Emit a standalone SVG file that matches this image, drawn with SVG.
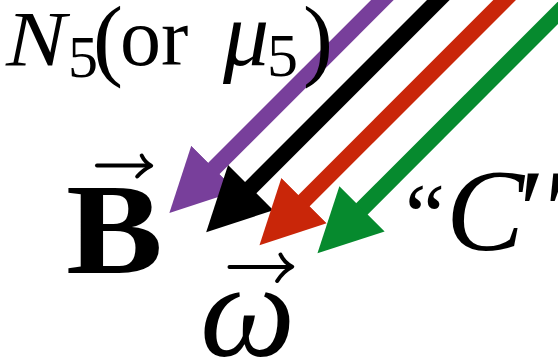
<svg xmlns="http://www.w3.org/2000/svg" width="558" height="361" viewBox="0 0 558 361">
<style>
  .t { font-family: "Liberation Serif", "Times New Roman", serif; fill: #000; }
  .i { font-style: italic; }
  .b { font-weight: bold; }
  .shaft { stroke-width: 16; fill: none; }
  .vec { stroke: #000; fill: none; stroke-width: 4; stroke-linecap: round; stroke-linejoin: round; }
</style>
<defs>
  <marker id="hp" markerUnits="userSpaceOnUse" viewBox="0 -33 64 66" refX="1" refY="0" markerWidth="64" markerHeight="66" orient="auto"><path d="M0,-32 L63,0 L0,32 Z" fill="#783f9b"/></marker>
  <marker id="hk" markerUnits="userSpaceOnUse" viewBox="0 -33 64 66" refX="1" refY="0" markerWidth="64" markerHeight="66" orient="auto"><path d="M0,-32 L63,0 L0,32 Z" fill="#000000"/></marker>
  <marker id="hr" markerUnits="userSpaceOnUse" viewBox="0 -33 64 66" refX="1" refY="0" markerWidth="64" markerHeight="66" orient="auto"><path d="M0,-32 L63,0 L0,32 Z" fill="#c92609"/></marker>
  <marker id="hg" markerUnits="userSpaceOnUse" viewBox="0 -33 64 66" refX="1" refY="0" markerWidth="64" markerHeight="66" orient="auto"><path d="M0,-32 L63,0 L0,32 Z" fill="#068a2e"/></marker>
</defs>
<rect width="558" height="361" fill="#ffffff"/>
<g id="connectors">
  <line class="shaft" x1="403.2" y1="-20.8" x2="213.2" y2="169.2" stroke="#783f9b" marker-end="url(#hp)"/>
  <line class="shaft" x1="460" y1="-21.7" x2="250" y2="188.3" stroke="#000000" marker-end="url(#hk)"/>
  <line class="shaft" x1="525.3" y1="-20.7" x2="303.3" y2="201.3" stroke="#c92609" marker-end="url(#hr)"/>
  <line class="shaft" x1="593.3" y1="-22.5" x2="361.3" y2="209.5" stroke="#068a2e" marker-end="url(#hg)"/>
</g>
<g id="label-n5">
  <text class="t i" x="6" y="65" font-size="78" textLength="60" lengthAdjust="spacingAndGlyphs">N</text>
  <text class="t" y="69"><tspan x="68" y="77" font-size="60">5</tspan><tspan x="93" y="69" font-size="90">(</tspan><tspan x="120" y="65" font-size="82">or</tspan><tspan x="223" y="65" font-size="92" font-style="italic">μ</tspan><tspan x="267" y="76" font-size="62">5</tspan><tspan x="303" y="69" font-size="90">)</tspan></text>
</g>
<g id="label-b">
  <text class="t b" x="66" y="273" font-size="130" textLength="97" lengthAdjust="spacingAndGlyphs">B</text>
  <path class="vec" d="M97,165.5 H149"/>
  <path class="vec" d="M141.7,155.5 Q145,162.5 151.2,165.7 Q143.5,169.5 137.2,176.5" stroke-width="3.5"/>
</g>
<g id="label-omega">
  <text class="t i" x="200" y="356" font-size="135">ω</text>
  <path class="vec" d="M229.5,267 H290"/>
  <path class="vec" d="M280.5,254.5 Q284,262.5 292.2,266.7 Q283,271.5 277.2,281" stroke-width="3.5"/>
</g>
<g id="label-c">
  <text class="t" y="250"><tspan x="405" y="246" font-size="90">“</tspan><tspan x="446" y="250" font-size="117" font-style="italic">C</tspan><tspan x="512" y="250" font-size="117" font-style="italic">′′</tspan></text>
</g>
</svg>
